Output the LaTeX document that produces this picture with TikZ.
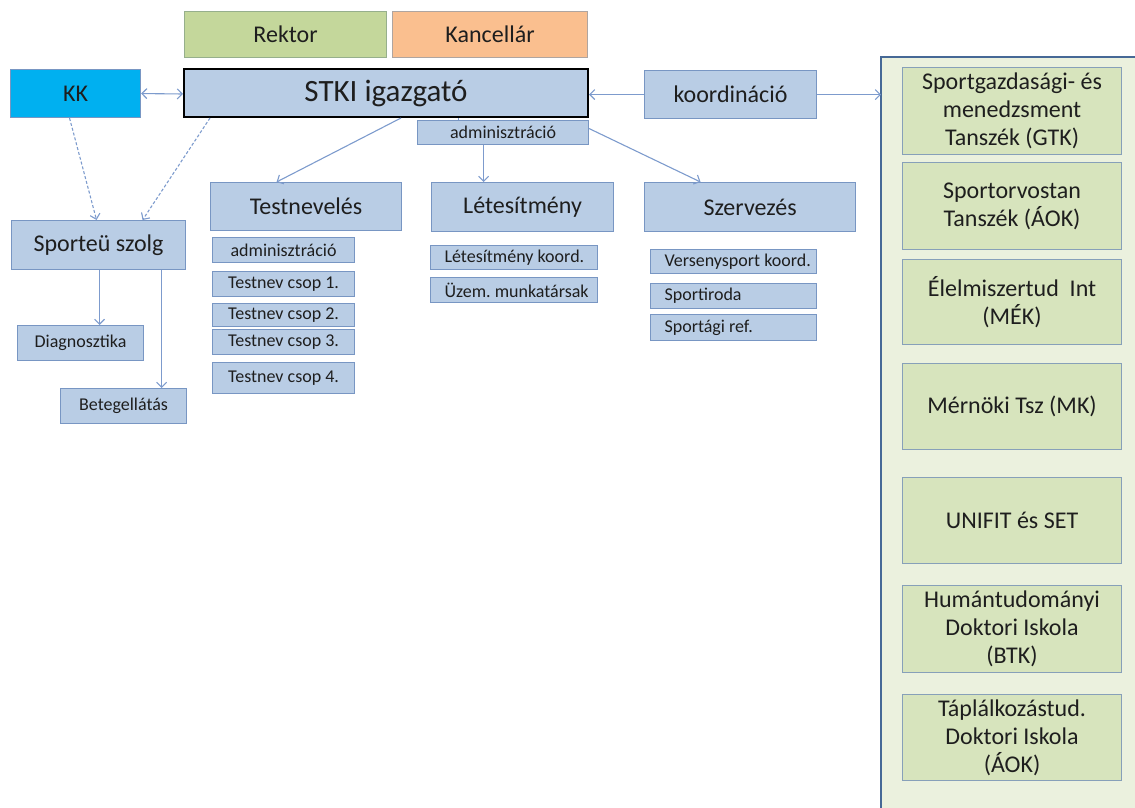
\documentclass[tikz,border=0pt]{standalone}
\usepackage{fontspec}
\setmainfont{Carlito}
\usetikzlibrary{arrows.meta}
\definecolor{bluefill}{RGB}{185,205,229}
\definecolor{blueline}{RGB}{120,150,195}
\definecolor{rekfill}{RGB}{196,215,155}
\definecolor{rekline}{RGB}{150,175,140}
\definecolor{kanfill}{RGB}{250,191,143}
\definecolor{kanline}{RGB}{175,165,160}
\definecolor{kkfill}{RGB}{0,176,240}
\definecolor{contfill}{RGB}{235,241,222}
\definecolor{contline}{RGB}{70,105,150}
\definecolor{grfill}{RGB}{215,228,189}
\definecolor{grline}{RGB}{135,160,185}
\definecolor{arrcol}{RGB}{125,155,205}
\definecolor{txt}{RGB}{30,30,30}
\newcommand\bx[7]{\node[#6, anchor=north west, minimum width={(#4-#2)*1pt}, minimum height={(#5-#3)*1pt}] (#1) at (#2,#3) {#7};}
\newcommand\lt[2]{\makebox[#1][l]{\hspace*{13pt}#2}}
\begin{document}
\begin{tikzpicture}[x=1pt,y=-1pt,
  base/.style={draw, line width=1.1pt, inner sep=0pt, text=txt, align=center},
  bluebox/.style={base, fill=bluefill, draw=blueline},
  big/.style={font=\fontsize{31}{36}\selectfont},
  mid/.style={font=\fontsize{24}{28}\selectfont},
  small/.style={font=\fontsize{18}{21}\selectfont},
  greenbox/.style={base, fill=grfill, draw=grline, font=\fontsize{24}{28}\selectfont},
  arr/.style={draw=arrcol, line width=1.1pt, -{Straight Barb[length=5pt,width=10pt]}},
  darr/.style={arr, dash pattern=on 3pt off 2pt},
  lrarr/.style={draw=arrcol, line width=1.1pt, {Straight Barb[length=5pt,width=10pt]}-{Straight Barb[length=5pt,width=10pt]}}
]
\useasboundingbox (0,0) rectangle (1135,808);
% container
\fill[contfill] (881,57) rectangle (1140,812);
\draw[contline, line width=1.5pt] (881,812) -- (881,57) -- (1140,57);
% top
\bx{rektor}{184}{11}{386}{57}{base, fill=rekfill, draw=rekline, mid}{Rektor}
\bx{kanc}{392}{11}{587}{57}{base, fill=kanfill, draw=kanline, mid}{Kancellár}
\bx{kk}{10}{69}{140}{117}{base, fill=kkfill, draw=blueline, mid}{KK}
\bx{stki}{183}{68}{587}{116}{base, fill=bluefill, draw=black, line width=2pt, big}{STKI igazgató}
\bx{koord}{644}{70}{816}{118}{bluebox, mid}{koordináció}
\bx{admin}{417}{120}{588}{144}{bluebox, small}{adminisztráció}
% second level
\bx{testnev}{210}{182}{401}{230}{bluebox, mid}{Testnevelés}
\bx{letes}{431}{182}{613}{231}{bluebox, mid}{Létesítmény}
\bx{szerv}{644}{182}{855}{231}{bluebox, mid}{Szervezés}
\bx{sporteu}{11}{220}{185}{269}{bluebox, mid}{Sporteü szolg}
% Testnevelés subs
\bx{ta}{212}{237}{354}{262}{bluebox, small}{adminisztráció}
\bx{t1}{212}{271}{354}{296}{bluebox, small}{Testnev csop 1.}
\bx{t2}{212}{303}{354}{326}{bluebox, small}{Testnev csop 2.}
\bx{t3}{212}{329}{354}{354}{bluebox, small}{Testnev csop 3.}
\bx{t4}{212}{362}{354}{393}{bluebox, small}{Testnev csop 4.}
% Létesítmény subs
\bx{lk}{430}{245}{597}{269}{bluebox, small}{\lt{165pt}{Létesítmény koord.}}
\bx{uz}{430}{277}{597}{302}{bluebox, small}{\lt{165pt}{Üzem.\ munkatársak}}
% Szervezés subs
\bx{vk}{650}{249}{816}{273}{bluebox, small}{\lt{164pt}{Versenysport koord.}}
\bx{si}{650}{283}{816}{308}{bluebox, small}{\lt{164pt}{Sportiroda}}
\bx{sr}{650}{314}{816}{340}{bluebox, small}{\lt{164pt}{Sportági ref.}}
% Sporteü subs
\bx{diag}{17}{325}{143}{360}{bluebox, small}{Diagnosztika}
\bx{beteg}{60}{388}{186}{423}{bluebox, small}{Betegellátás}
% right column
\bx{r1}{902}{67}{1121}{154}{greenbox}{Sportgazdasági- és\\menedzsment\\Tanszék (GTK)}
\bx{r2}{902}{162}{1121}{249}{greenbox}{Sportorvostan\\Tanszék (ÁOK)}
\bx{r3}{902}{259}{1121}{344}{greenbox}{Élelmiszertud\ \ Int\\(MÉK)}
\bx{r4}{902}{363}{1121}{449}{greenbox}{Mérnöki Tsz (MK)}
\bx{r5}{902}{477}{1121}{563}{greenbox}{UNIFIT és SET}
\bx{r6}{902}{585}{1121}{672}{greenbox}{Humántudományi\\Doktori Iskola\\(BTK)}
\bx{r7}{902}{694}{1121}{780}{greenbox}{Táplálkozástud.\\Doktori Iskola\\(ÁOK)}
\coordinate (contw) at (881,94);
% connectors
\draw[lrarr] (kk.east) -- ([yshift=-1pt]stki.west);
\draw[arr] (koord.west) -- (koord.west -| stki.east);
\draw[arr] (koord.east) -- (koord.east -| contw);
\draw[arr] ([xshift=15pt]stki.south) -- ([xshift=-29.5pt]testnev.north);
\draw[draw=arrcol, line width=1.1pt] ([xshift=-44.5pt]admin.north) -- ([xshift=-44.5pt]admin.north |- stki.south);
\draw[arr] ([xshift=-19.5pt]admin.south) -- ([xshift=-19.5pt]admin.south |- letes.north);
\draw[arr] ([yshift=4pt]admin.east) -- ([xshift=-49.5pt]szerv.north);
\draw[darr] ([xshift=-6pt]kk.south) -- ([xshift=-2pt]sporteu.north);
\draw[darr] ([xshift=27pt]stki.south west) -- ([xshift=44pt]sporteu.north);
\draw[arr] ([xshift=1pt]sporteu.south) -- ([xshift=1pt]sporteu.south |- diag.north);
\draw[arr] ([xshift=63pt]sporteu.south) -- ([xshift=63pt]sporteu.south |- beteg.north);
\end{tikzpicture}
\end{document}
